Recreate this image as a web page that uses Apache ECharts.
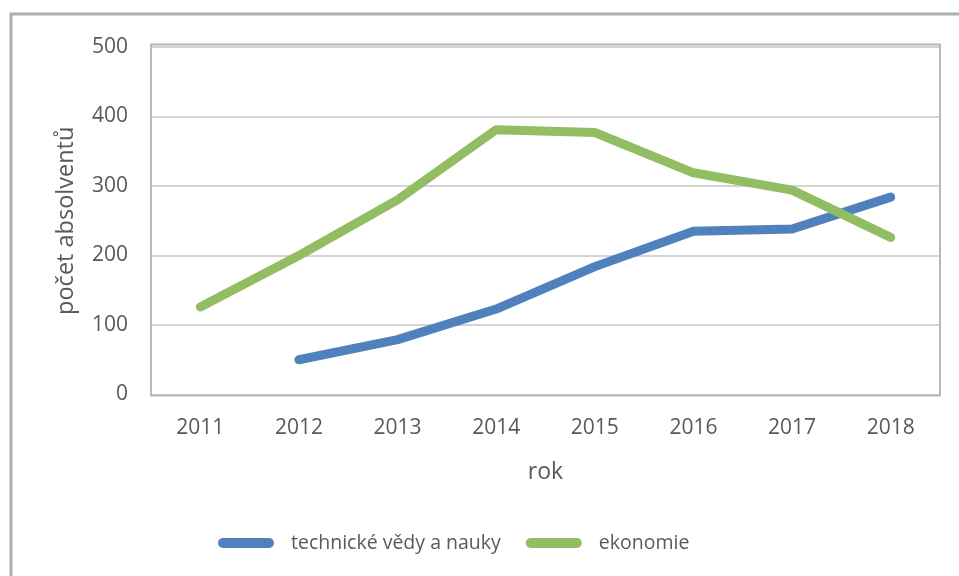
<!DOCTYPE html>
<html>
<head>
<meta charset="utf-8">
<script src="https://cdn.jsdelivr.net/npm/echarts@6/dist/echarts.min.js"></script>
<style>
html, body { margin: 0; padding: 0; background: #fff; }
#chart { width: 959px; height: 576px; }
</style>
</head>
<body>
<div id="chart"></div>
<script>
const years = ["2011", "2012", "2013", "2014", "2015", "2016", "2017", "2018"];
const technicke = [null, 50, 79, 123, 184, 235, 238, 284];
const ekonomie = [126, 200, 280, 381, 377, 319, 294, 226];
const yTicks = [0, 100, 200, 300, 400, 500];

const chart = echarts.init(document.getElementById("chart"));
const font = "'Open Sans', sans-serif";
const legendIcon = "path://M5,0 H51 A5,5 0 0 1 51,10 H5 A5,5 0 0 1 5,0 Z";

const option = {
    backgroundColor: "#fff",
    animation: false,
    textStyle: { fontFamily: font },
    graphic: [
        {
            // outer chart frame (runs off the right and bottom edge)
            type: "rect",
            shape: { x: 11, y: 14, width: 1000, height: 700 },
            style: { fill: null, stroke: "#a9afb6", lineWidth: 3 },
            silent: true
        },
        {
            // plot area frame
            type: "rect",
            shape: { x: 151, y: 44.5, width: 789, height: 351 },
            style: { fill: null, stroke: "#b3b8be", lineWidth: 2 },
            silent: true,
            z: 10
        }
    ],
    grid: { left: 151, right: 19, top: 47, bottom: 181.5 },
    legend: {
        bottom: 18,
        left: 213,
        itemWidth: 56,
        itemHeight: 10,
        itemGap: 25,
        icon: legendIcon,
        textStyle: { fontSize: 19.5, color: "#595959", fontFamily: font, padding: [0, 0, 0, 12] },
        data: ["technické vědy a nauky", "ekonomie"]
    },
    xAxis: {
        type: "category",
        data: years,
        boundaryGap: true,
        name: "rok",
        nameLocation: "middle",
        nameGap: 66,
        nameTextStyle: { fontSize: 23, color: "#595959" },
        axisLine: { show: false },
        axisTick: { show: false },
        axisLabel: { fontSize: 21, color: "#595959", margin: 23 }
    },
    yAxis: {
        type: "value",
        min: yTicks[0],
        max: yTicks[yTicks.length - 1],
        interval: 100,
        name: "počet absolventů",
        nameLocation: "middle",
        nameGap: 73,
        nameTextStyle: { fontSize: 23.5, color: "#595959" },
        axisLine: { show: false },
        axisTick: { show: false },
        axisLabel: { fontSize: 21, color: "#595959", margin: 23 },
        splitLine: { lineStyle: { color: "#d4d4d4", width: 2 } }
    },
    series: [
        {
            name: "technické vědy a nauky",
            type: "line",
            data: technicke,
            symbol: "none",
            color: "#4f81bd",
            lineStyle: { width: 9, cap: "round", join: "round" }
        },
        {
            name: "ekonomie",
            type: "line",
            data: ekonomie,
            symbol: "none",
            color: "#92bd62",
            lineStyle: { width: 9, cap: "round", join: "round" }
        }
    ]
};

chart.setOption(option);
</script>
</body>
</html>
